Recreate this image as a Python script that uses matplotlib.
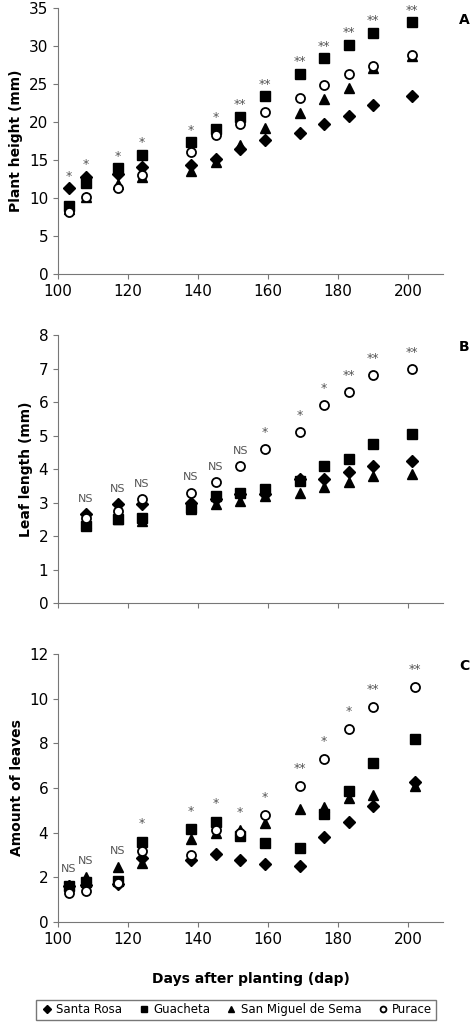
import matplotlib
matplotlib.use("Agg")
import matplotlib.pyplot as plt

plt.rcParams['font.family'] = ['Liberation Sans Narrow', 'DejaVu Sans']

days_a = [103, 108, 117, 124, 138, 145, 152, 159, 169, 176, 183, 190, 201]
days_b = [108, 117, 124, 138, 145, 152, 159, 169, 176, 183, 190, 201]
days_c = [103, 108, 117, 124, 138, 145, 152, 159, 169, 176, 183, 190, 202]

names = ["Santa Rosa", "Guacheta", "San Miguel de Sema", "Purace"]

height = {
    "Santa Rosa": [11.3, 12.8, 13.2, 14.1, 14.3, 15.2, 16.5, 17.6, 18.6, 19.7, 20.8, 22.2, 23.4],
    "Guacheta": [9.0, 12.0, 13.9, 15.7, 17.4, 19.1, 20.7, 23.4, 26.4, 28.4, 30.2, 31.8, 33.2],
    "San Miguel de Sema": [8.6, 10.2, 11.9, 12.8, 13.6, 14.8, 17.0, 19.2, 21.2, 23.0, 24.5, 27.1, 28.7],
    "Purace": [8.2, 10.1, 11.3, 13.0, 16.0, 18.3, 19.8, 21.3, 23.2, 24.9, 26.3, 27.4, 28.9],
}
sig_a = ["*", "*", "*", "*", "*", "*", "**", "**", "**", "**", "**", "**", "**"]

leaf_len = {
    "Santa Rosa": [2.65, 2.95, 2.95, 3.0, 3.1, 3.25, 3.25, 3.7, 3.7, 3.9, 4.1, 4.25],
    "Guacheta": [2.3, 2.5, 2.55, 2.85, 3.2, 3.3, 3.4, 3.65, 4.1, 4.3, 4.75, 5.05],
    "San Miguel de Sema": [2.4, 2.5, 2.45, 2.8, 2.95, 3.05, 3.2, 3.3, 3.45, 3.6, 3.8, 3.85],
    "Purace": [2.55, 2.75, 3.1, 3.3, 3.6, 4.1, 4.6, 5.1, 5.9, 6.3, 6.8, 7.0],
}
sig_b = ["NS", "NS", "NS", "NS", "NS", "NS", "*", "*", "*", "**", "**", "**"]

leaves = {
    "Santa Rosa": [1.6, 1.65, 1.7, 2.85, 2.8, 3.05, 2.8, 2.6, 2.5, 3.8, 4.5, 5.2, 6.25],
    "Guacheta": [1.6, 1.8, 1.85, 3.6, 4.15, 4.5, 3.85, 3.55, 3.3, 4.85, 5.85, 7.1, 8.2],
    "San Miguel de Sema": [1.65, 2.0, 2.45, 2.65, 3.7, 4.0, 4.1, 4.45, 5.05, 5.15, 5.55, 5.7, 6.1],
    "Purace": [1.3, 1.4, 1.75, 3.2, 3.0, 4.1, 4.0, 4.8, 6.1, 7.3, 8.65, 9.6, 10.5],
}
sig_c = ["NS", "NS", "NS", "*", "*", "*", "*", "*", "**", "*", "*", "**", "**"]

styles = {
    "Santa Rosa": dict(marker="D", color="black", ms=6),
    "Guacheta": dict(marker="s", color="black", ms=6.5),
    "San Miguel de Sema": dict(marker="^", color="black", ms=7),
    "Purace": dict(marker="o", mfc="white", mec="black", mew=1.3, ms=6.5),
}

fig = plt.figure(figsize=(4.72, 10.28), dpi=100)
left, width = 0.123, 0.816
panels = [
    (0.7335, 0.2585, days_a, height, sig_a, 35, 5, "Plant height (mm)", "A", 0.7, True),
    (0.4134, 0.2606, days_b, leaf_len, sig_b, 8, 1, "Leaf length (mm)", "B", 0.3, False),
    (0.103, 0.2610, days_c, leaves, sig_c, 12, 2, "Amount of leaves", "C", 0.5, True),
]
handles = []
for bottom, h, days, data, sig, ymax, ystep, ylabel, tag, off, xlabels in panels:
    ax = fig.add_axes([left, bottom, width, h])
    for n in names:
        ln, = ax.plot(days, data[n], ls="none", label=n, **styles[n])
        if tag == "A":
            handles.append(ln)
    for i, d in enumerate(days):
        top = max(data[n][i] for n in names)
        ax.text(d, top + off, sig[i], ha="center", va="bottom",
                fontsize=8 if sig[i] == "NS" else 9, color="#555555")
    ax.set_xlim(100, 210)
    ax.set_ylim(0, ymax)
    ax.set_yticks(range(0, ymax + 1, ystep))
    ax.set_xticks(range(100, 201, 20))
    if not xlabels:
        ax.set_xticklabels([])
    for s in ["top", "right"]:
        ax.spines[s].set_visible(False)
    for s in ["left", "bottom"]:
        ax.spines[s].set_color("#777777")
    ax.tick_params(colors="#777777", labelcolor="black", labelsize=11, direction="out")
    ax.set_ylabel(ylabel, fontsize=10, fontweight="bold")
    fig.text(0.995, bottom + h - 0.005, tag, ha="right", va="top",
             fontsize=10, fontweight="bold")
    if tag == "C":
        ax.set_xlabel("Days after planting (dap)", fontsize=10, fontweight="bold", labelpad=18)

fig.legend(handles=handles, labels=names, loc="lower center", ncol=4,
           bbox_to_anchor=(0.5, 0.002), frameon=True, fancybox=False,
           edgecolor="#555555", fontsize=8.5, handletextpad=0.2,
           handlelength=1.2, columnspacing=1.2, markerscale=0.65, borderpad=0.3)

fig.savefig("out.png", dpi=100)
